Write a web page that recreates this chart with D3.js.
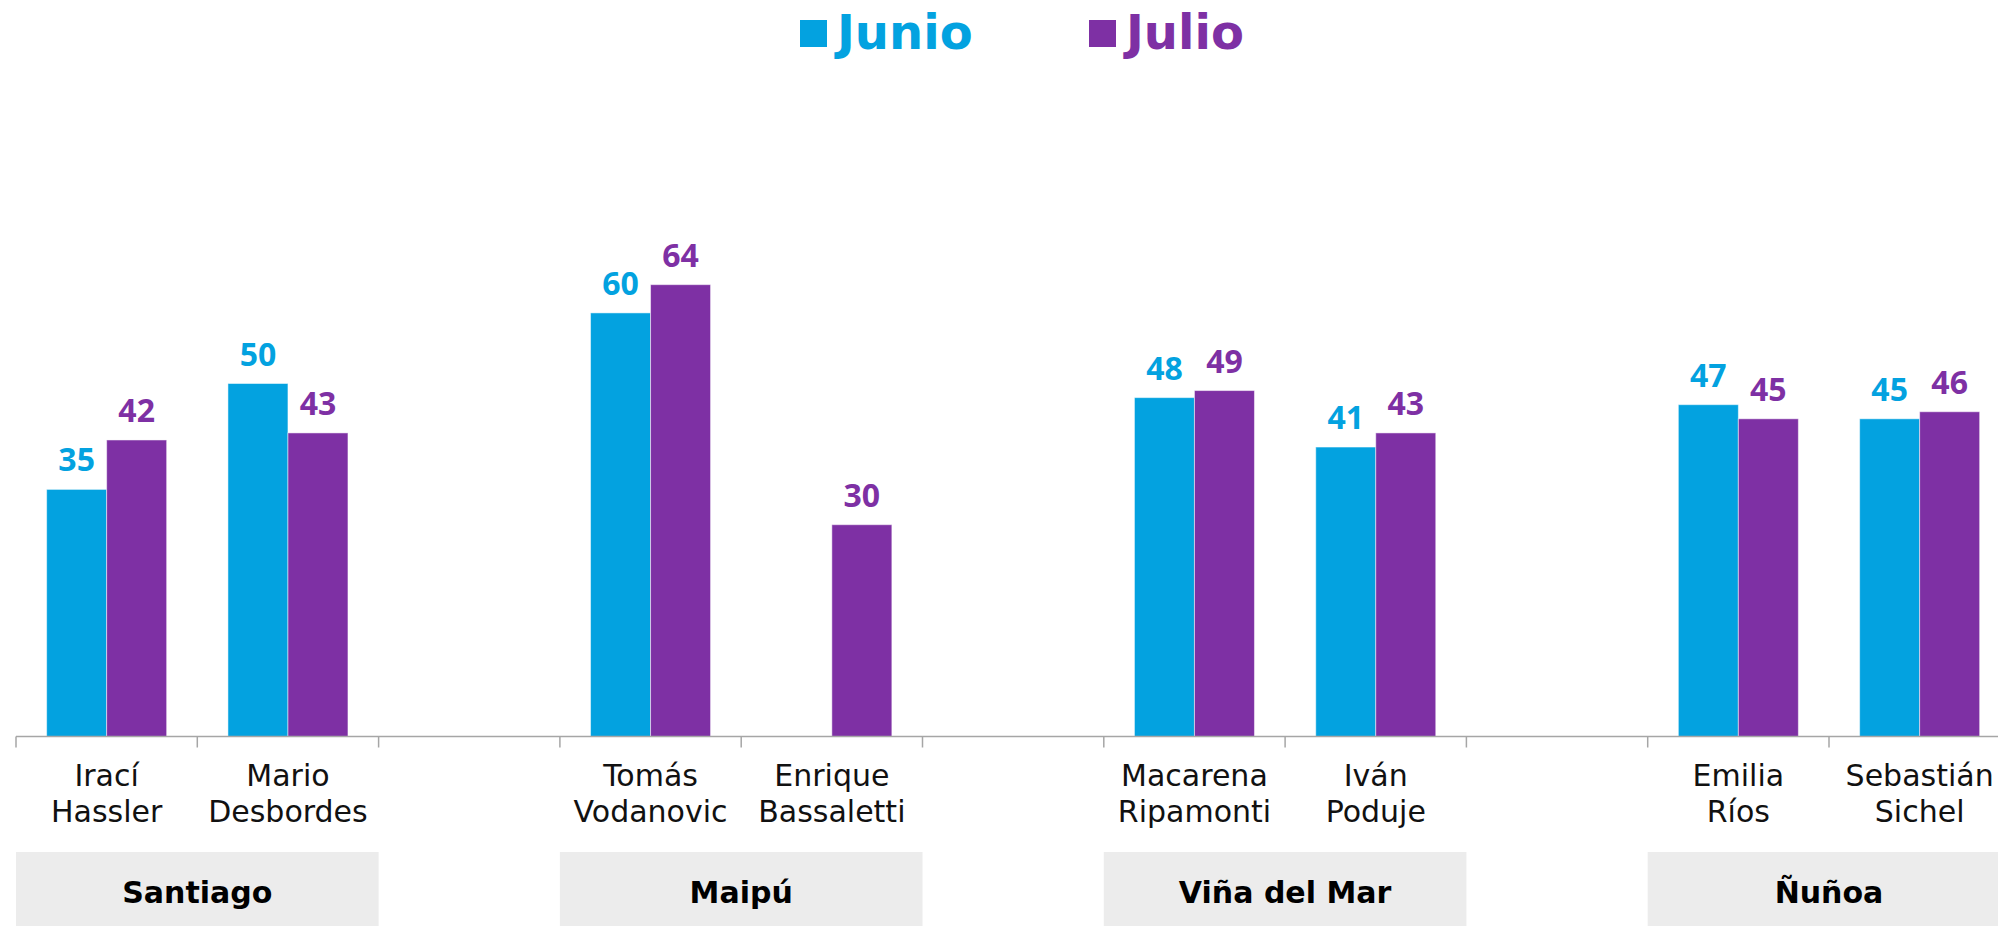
<!DOCTYPE html>
<html>
<head>
<meta charset="utf-8">
<script src="https://cdn.jsdelivr.net/npm/d3@7"></script>
<style>
  body { margin: 0; background: #fff; }
  svg { display: block; }
</style>
</head>
<body>
<div id="vis"></div>
<script>
var width = 1998;
var height = 926;

// slots along the axis ("" = empty gap between comunas)
var slots = ["Irací Hassler", "Mario Desbordes", "", "Tomás Vodanovic", "Enrique Bassaletti", "",
  "Macarena Ripamonti", "Iván Poduje", "", "Emilia Ríos", "Sebastián Sichel"];
var nameLines = {
  "Irací Hassler": ["Irací", "Hassler"],
  "Mario Desbordes": ["Mario", "Desbordes"],
  "Tomás Vodanovic": ["Tomás", "Vodanovic"],
  "Enrique Bassaletti": ["Enrique", "Bassaletti"],
  "Macarena Ripamonti": ["Macarena", "Ripamonti"],
  "Iván Poduje": ["Iván", "Poduje"],
  "Emilia Ríos": ["Emilia", "Ríos"],
  "Sebastián Sichel": ["Sebastián", "Sichel"]
};
var series = ["Junio", "Julio"];
var junio = [35, 50, null, 60, null, null, 48, 41, null, 47, 45];
var julio = [42, 43, null, 64, 30, null, 49, 43, null, 45, 46];
var groups = ["Santiago", "Maipú", "Viña del Mar", "Ñuñoa"];
var groupSlots = [[0, 1], [3, 4], [6, 7], [9, 10]];

var colors = {"Junio": "#03a2e0", "Julio": "#7e30a4"};
var values = {"Junio": junio, "Julio": julio};

var x = d3.scaleBand()
  .domain(d3.range(slots.length))
  .range([16, 16 + slots.length * 181.3])
  .paddingInner(0.338)
  .paddingOuter(0.169);

var xSub = d3.scaleBand()
  .domain(series)
  .range([0, x.bandwidth()]);

var y = d3.scaleLinear()
  .domain([0, 100])
  .range([736.5, 30.5]);

var svg = d3.select("#vis")
  .append("svg")
  .attr("width", width)
  .attr("height", height);

// legend
var legend = svg.append("g");
var legX = {"Junio": 800, "Julio": 1089};
series.forEach(function(s) {
  legend.append("rect")
    .attr("x", legX[s])
    .attr("y", 20)
    .attr("width", 27)
    .attr("height", 27)
    .attr("fill", colors[s]);
  legend.append("text")
    .attr("x", legX[s] + 37)
    .attr("y", 49)
    .attr("fill", colors[s])
    .style("font", "bold 48px 'DejaVu Sans', sans-serif")
    .text(s);
});

// bars
var barData = [];
slots.forEach(function(name, i) {
  series.forEach(function(s) {
    var v = values[s][i];
    if (v != null) barData.push({i: i, s: s, v: v});
  });
});

svg.append("g")
  .selectAll("rect")
  .data(barData)
  .enter()
  .append("rect")
  .attr("x", d => x(d.i) + xSub(d.s))
  .attr("y", d => y(d.v))
  .attr("width", xSub.bandwidth())
  .attr("height", d => y(0) - y(d.v))
  .attr("fill", d => colors[d.s])
  .attr("stroke", "#ffffff")
  .attr("stroke-opacity", 0.5)
  .attr("stroke-width", 1);

svg.append("g")
  .style("font", "bold 32px 'Open Sans', sans-serif")
  .attr("text-anchor", "middle")
  .selectAll("text")
  .data(barData)
  .enter()
  .append("text")
  .attr("x", d => x(d.i) + xSub(d.s) + xSub.bandwidth() / 2)
  .attr("y", d => y(d.v) - 18)
  .attr("fill", d => colors[d.s])
  .text(d => d.v);

// axis line with ticks between categories
var axis = svg.append("g").attr("stroke", "#a6a6a6").attr("stroke-width", 1.5);
axis.append("line")
  .attr("x1", x.range()[0])
  .attr("x2", width)
  .attr("y1", y(0))
  .attr("y2", y(0));
axis.selectAll("line.tick")
  .data(d3.range(slots.length + 1))
  .enter()
  .append("line")
  .attr("class", "tick")
  .attr("x1", d => x.range()[0] + d * x.step())
  .attr("x2", d => x.range()[0] + d * x.step())
  .attr("y1", y(0))
  .attr("y2", y(0) + 11);

// candidate names
var names = svg.append("g")
  .style("font", "30px 'DejaVu Sans', sans-serif")
  .attr("fill", "#111")
  .attr("text-anchor", "middle");
slots.forEach(function(name, i) {
  if (!name) return;
  var t = names.append("text")
    .attr("x", x(i) + x.bandwidth() / 2)
    .attr("y", 786);
  nameLines[name].forEach(function(line, k) {
    t.append("tspan")
      .attr("x", x(i) + x.bandwidth() / 2)
      .attr("dy", k === 0 ? 0 : 36)
      .text(line);
  });
});

// comuna boxes
var boxes = svg.append("g");
groups.forEach(function(g, k) {
  var a = x.range()[0] + groupSlots[k][0] * x.step();
  var b = x.range()[0] + (groupSlots[k][1] + 1) * x.step();
  boxes.append("rect")
    .attr("x", a)
    .attr("y", 852)
    .attr("width", b - a)
    .attr("height", height - 852)
    .attr("fill", "#ececec");
  boxes.append("text")
    .attr("x", (a + b) / 2)
    .attr("y", 903)
    .attr("text-anchor", "middle")
    .attr("fill", "#000")
    .style("font", "bold 30px 'DejaVu Sans', sans-serif")
    .text(g);
});
</script>
</body>
</html>
